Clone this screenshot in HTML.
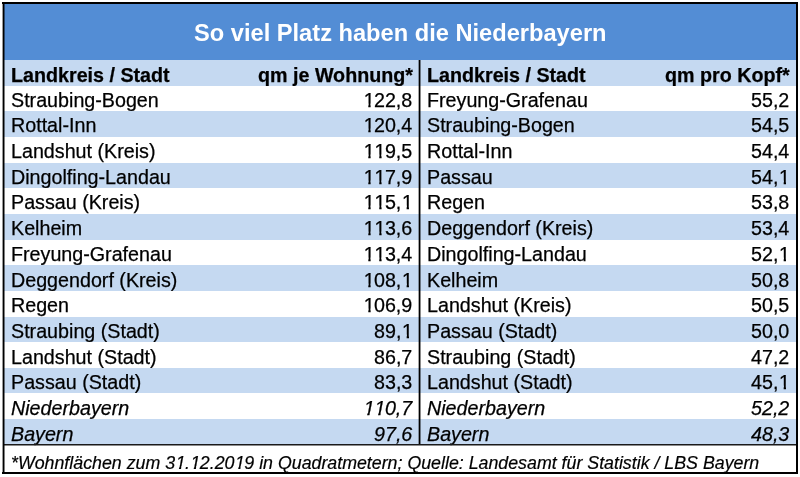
<!DOCTYPE html>
<html><head><meta charset="utf-8">
<style>
html,body{margin:0;padding:0;background:#fff;}
body{width:800px;height:477px;position:relative;overflow:hidden;-webkit-font-smoothing:antialiased;font-family:"Liberation Sans",sans-serif;color:#000;}
.title{position:absolute;left:4px;top:4px;width:792px;height:56px;background:#538DD5;color:#fff;font-weight:bold;font-size:23.65px;line-height:56px;padding-top:0.8px;box-sizing:border-box;text-align:center;}
.title span{will-change:transform;display:inline-block;}
.row{position:absolute;left:4px;width:792px;height:25.65px;font-size:19.7px;line-height:25.6px;}
.row > span{position:absolute;top:var(--o,2.5px);white-space:nowrap;will-change:transform;-webkit-text-stroke:0.25px #000;}
.hdr > span{top:3.3px;}
.blue{background:#C5D9F1;}
.white{background:#fff;}
.hdr{font-weight:bold;font-size:19.7px;}
.it{font-style:italic;}
.c1{left:6.5px;}
.c2{right:383.5px;}
.c3{left:423px;}
.c4{right:6.3px;}
.vdiv{position:absolute;left:418px;top:60px;width:3px;height:384px;background:linear-gradient(to right,rgba(0,0,0,.35) 0 1px,#000 1px 2px,rgba(0,0,0,.45) 2px 3px);}
.hline{position:absolute;left:4px;top:444px;width:792px;height:2px;background:linear-gradient(to bottom,#1a1a1a 0 1px,rgba(0,0,0,.45) 1px 2px);}
.foot{position:absolute;left:11px;top:449.5px;font-size:17.8px;line-height:27px;font-style:italic;white-space:nowrap;will-change:transform;-webkit-text-stroke:0.2px #000;}
.one{display:inline-block;text-decoration:none;line-height:1.2em;position:relative;left:0.033em;clip-path:polygon(0 0,100% 0,100% 0.74em,calc(0.3398em + 0.3px) 0.74em,calc(0.3398em + 0.3px) 100%,calc(0.2515em - 0.3px) 100%,calc(0.2515em - 0.3px) 0.74em,0 0.74em);}
.it .one,.foot .one{clip-path:polygon(0 0,100% 0,100% 0.74em,calc(0.309em + 0.3px) 0.74em,calc(0.24em + 0.3px) 100%,calc(0.152em - 0.3px) 100%,calc(0.2206em - 0.3px) 0.74em,0 0.74em);}
.b{position:absolute;}
.bt{left:2px;top:2px;width:796px;height:2px;background:#000;}
.bb{left:2px;top:472px;width:796px;height:2px;background:#000;}
.br{left:796px;top:2px;width:2px;height:472px;background:#000;}
.bl{left:2px;top:2px;width:3px;height:472px;background:linear-gradient(to right,rgba(0,0,0,.4) 0 1px,#000 1px 2px,rgba(0,0,0,.5) 2px 3px);}
</style></head><body>
<div class="title"><span>So viel Platz haben die Niederbayern</span></div>
<div class="row hdr blue" style="top:60.00px"><span class="c1">Landkreis / Stadt</span><span class="c2">qm je Wohnung*</span><span class="c3">Landkreis / Stadt</span><span class="c4">qm pro Kopf*</span></div>
<div class="row white" style="top:85.65px"><span class="c1">Straubing-Bogen</span><span class="c2"><u class="one">1</u>22,8</span><span class="c3">Freyung-Grafenau</span><span class="c4">55,2</span></div>
<div class="row blue" style="top:111.30px;--o:1.40px"><span class="c1">Rottal-Inn</span><span class="c2"><u class="one">1</u>20,4</span><span class="c3">Straubing-Bogen</span><span class="c4">54,5</span></div>
<div class="row white" style="top:136.95px"><span class="c1">Landshut (Kreis)</span><span class="c2"><u class="one">1</u><u class="one">1</u>9,5</span><span class="c3">Rottal-Inn</span><span class="c4">54,4</span></div>
<div class="row blue" style="top:162.60px"><span class="c1">Dingolfing-Landau</span><span class="c2"><u class="one">1</u><u class="one">1</u>7,9</span><span class="c3">Passau</span><span class="c4">54,<u class="one">1</u></span></div>
<div class="row white" style="top:188.25px;--o:1.40px"><span class="c1">Passau (Kreis)</span><span class="c2"><u class="one">1</u><u class="one">1</u>5,<u class="one">1</u></span><span class="c3">Regen</span><span class="c4">53,8</span></div>
<div class="row blue" style="top:213.90px"><span class="c1">Kelheim</span><span class="c2"><u class="one">1</u><u class="one">1</u>3,6</span><span class="c3">Deggendorf (Kreis)</span><span class="c4">53,4</span></div>
<div class="row white" style="top:239.55px"><span class="c1">Freyung-Grafenau</span><span class="c2"><u class="one">1</u><u class="one">1</u>3,4</span><span class="c3">Dingolfing-Landau</span><span class="c4">52,<u class="one">1</u></span></div>
<div class="row blue" style="top:265.20px"><span class="c1">Deggendorf (Kreis)</span><span class="c2"><u class="one">1</u>08,<u class="one">1</u></span><span class="c3">Kelheim</span><span class="c4">50,8</span></div>
<div class="row white" style="top:290.85px"><span class="c1">Regen</span><span class="c2"><u class="one">1</u>06,9</span><span class="c3">Landshut (Kreis)</span><span class="c4">50,5</span></div>
<div class="row blue" style="top:316.50px"><span class="c1">Straubing (Stadt)</span><span class="c2">89,<u class="one">1</u></span><span class="c3">Passau (Stadt)</span><span class="c4">50,0</span></div>
<div class="row white" style="top:342.15px"><span class="c1">Landshut (Stadt)</span><span class="c2">86,7</span><span class="c3">Straubing (Stadt)</span><span class="c4">47,2</span></div>
<div class="row blue" style="top:367.80px"><span class="c1">Passau (Stadt)</span><span class="c2">83,3</span><span class="c3">Landshut (Stadt)</span><span class="c4">45,<u class="one">1</u></span></div>
<div class="row white it" style="top:393.45px"><span class="c1">Niederbayern</span><span class="c2"><u class="one">1</u><u class="one">1</u>0,7</span><span class="c3">Niederbayern</span><span class="c4">52,2</span></div>
<div class="row blue it" style="top:419.10px"><span class="c1">Bayern</span><span class="c2">97,6</span><span class="c3">Bayern</span><span class="c4">48,3</span></div>
<div class="vdiv"></div>
<div class="hline"></div>
<div class="foot">*Wohnflächen zum 3<u class="one">1</u>.<u class="one">1</u>2.20<u class="one">1</u>9 in Quadratmetern; Quelle: Landesamt für Statistik / LBS Bayern</div>
<div class="b bt"></div><div class="b bb"></div><div class="b br"></div><div class="b bl"></div>
</body></html>
